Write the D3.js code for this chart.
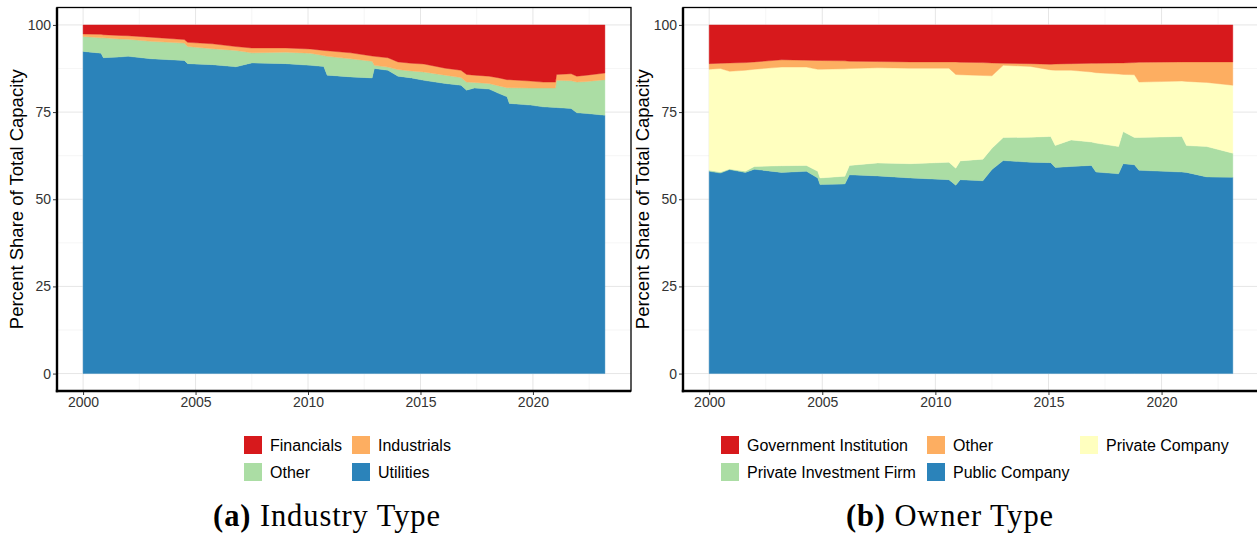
<!DOCTYPE html>
<html><head><meta charset="utf-8">
<script src="https://cdn.jsdelivr.net/npm/d3@7"></script>
<style>body{margin:0;background:#fff}svg{display:block}</style>
</head><body>
<svg id="c" width="1257" height="536"></svg>
<script>
// ---------- DATA ----------
const xTicks = [2000, 2005, 2010, 2015, 2020];
const yTicks = [0, 25, 50, 75, 100];

// Panel (a): Industry type (percent share)
const datesA = [2000.0,2000.8,2000.9,2001.6,2002.0,2003.0,2004.5,2004.65,2005.75,2006.8,2007.5,2009.0,2010.1,2010.7,2010.85,2011.9,2012.85,2012.95,2013.55,2014.0,2014.6,2015.15,2016.1,2016.8,2017.05,2017.4,2018.05,2018.5,2018.85,2018.95,2019.9,2020.45,2021.0,2021.05,2021.7,2021.95,2022.4,2023.2];
const utilitiesA = [92.4,91.9,90.6,90.8,91.0,90.3,89.8,88.9,88.6,88.0,89.1,88.9,88.4,88.1,85.6,85.1,84.8,87.5,87.0,85.3,84.8,84.1,83.2,82.7,81.3,81.9,81.6,80.3,79.4,77.5,77.0,76.5,76.3,76.3,76.0,74.8,74.6,74.1];
const otherA = [4.3,4.4,5.7,5.2,4.9,5.0,5.0,4.9,4.6,4.7,2.9,3.3,3.5,3.1,5.4,5.2,4.8,0.9,0.9,1.9,2.0,2.4,2.4,2.2,2.3,1.6,1.6,2.2,2.6,4.5,4.9,5.4,5.6,7.8,8.0,8.8,9.2,10.2];
const industrialsA = [0.7,1.0,0.9,1.0,1.0,1.2,1.0,1.2,1.4,1.1,1.4,1.2,1.2,1.5,1.6,1.7,1.5,2.6,2.7,2.2,2.2,2.3,2.0,2.1,2.2,2.1,2.1,2.3,2.3,2.3,2.0,1.7,1.7,1.7,2.0,1.7,1.8,1.9];
const financialsA = [2.6,2.7,2.8,3.0,3.1,3.5,4.2,5.0,5.4,6.2,6.6,6.6,6.9,7.3,7.4,8.0,8.9,9.0,9.4,10.6,11.0,11.2,12.4,13.0,14.2,14.4,14.7,15.2,15.7,15.7,16.1,16.4,16.4,14.2,14.0,14.7,14.4,13.8];

// Panel (b): Owner type (percent share)
const datesB = [2000.0,2000.5,2000.9,2001.6,2002.0,2003.2,2004.3,2004.8,2004.9,2006.0,2006.2,2007.45,2008.9,2010.6,2010.9,2011.1,2012.1,2012.5,2013.0,2014.2,2015.1,2015.3,2016.0,2016.9,2017.1,2018.1,2018.3,2018.8,2019.0,2020.9,2021.1,2022.0,2023.15];
const publicB = [58.0,57.5,58.5,57.7,58.6,57.7,58.0,56.1,54.2,54.4,57.0,56.7,56.1,55.6,54.0,55.6,55.3,58.5,61.1,60.6,60.5,59.1,59.4,59.7,57.8,57.3,60.2,59.9,58.3,57.8,57.7,56.4,56.3];
const privInvB = [0.3,0.3,0.2,0.3,0.8,1.9,1.7,1.9,1.9,2.2,2.7,3.7,4.1,5.0,4.9,5.4,6.2,6.1,6.6,7.2,7.5,6.3,7.6,6.7,8.3,7.8,9.2,7.8,9.4,10.2,7.7,8.7,6.9];
const privCoB = [29.0,29.7,28.0,29.0,27.9,28.3,28.2,29.3,31.2,30.8,27.8,27.3,27.4,27.0,26.9,24.7,24.0,20.8,20.7,20.3,19.1,21.6,20.0,20.1,20.2,20.8,16.4,18.0,15.9,15.9,18.4,18.4,19.5];
const otherB = [1.6,1.5,2.4,2.2,2.1,2.1,2.0,2.5,2.5,2.3,2.1,1.8,1.8,1.8,3.6,3.6,3.7,3.7,0.6,0.8,1.6,1.8,1.9,2.5,2.7,3.2,3.3,3.5,5.7,5.5,5.6,5.9,6.7];
const govB = [11.1,11.0,10.9,10.8,10.6,10.0,10.1,10.2,10.2,10.3,10.4,10.5,10.6,10.6,10.6,10.7,10.8,10.9,11.0,11.1,11.3,11.2,11.1,11.0,11.0,10.9,10.9,10.8,10.7,10.6,10.6,10.6,10.6];

const colors = {red:"#D7191C", orange:"#FDAE61", yellow:"#FFFFBF", green:"#ABDDA4", blue:"#2B83BA"};

// ---------- DRAW ----------
const svg = d3.select("#c");
const sans = "'Liberation Sans', Arial, sans-serif";

function panel(opts){
  const {x0, x1, y0, y1, dates, series, legend, caption, capBold, capX, dataEnd} = opts;
  const expand = (dataEnd - 2000) * 0.05;
  const x = d3.scaleLinear().domain([2000 - expand, dataEnd + expand]).range([x0, x1]);
  const y = d3.scaleLinear().domain([-5, 105]).range([y1, y0]);
  const g = svg.append("g");
  const clipId = "clip" + Math.round(x0);
  g.append("clipPath").attr("id", clipId).append("rect")
    .attr("x", x0).attr("y", y0).attr("width", x1 - x0).attr("height", y1 - y0);
  // grid
  const minorX = [], minorY = [];
  for (let v = 1997.5; v <= 2025; v += 5) minorX.push(v);
  for (let v = -12.5; v <= 112.5; v += 25) minorY.push(v);
  const grid = g.append("g").attr("clip-path", `url(#${clipId})`);
  grid.selectAll(".mx").data(minorX).join("line")
    .attr("x1", d => x(d)).attr("x2", d => x(d)).attr("y1", y0).attr("y2", y1)
    .attr("stroke", "#f0f0f0").attr("stroke-width", 0.6);
  grid.selectAll(".my").data(minorY).join("line")
    .attr("y1", d => y(d)).attr("y2", d => y(d)).attr("x1", x0).attr("x2", x1)
    .attr("stroke", "#f0f0f0").attr("stroke-width", 0.6);
  grid.selectAll(".Mx").data(xTicks).join("line")
    .attr("x1", d => x(d)).attr("x2", d => x(d)).attr("y1", y0).attr("y2", y1)
    .attr("stroke", "#e6e6e6").attr("stroke-width", 1);
  grid.selectAll(".My").data(yTicks).join("line")
    .attr("y1", d => y(d)).attr("y2", d => y(d)).attr("x1", x0).attr("x2", x1)
    .attr("stroke", "#e6e6e6").attr("stroke-width", 1);

  // stacked areas
  const rows = dates.map((t, i) => {
    const r = {t};
    series.forEach(s => r[s.key] = s.values[i]);
    return r;
  });
  const stack = d3.stack().keys(series.map(s => s.key))(rows);
  const area = d3.area().x(d => x(d.data.t)).y0(d => y(d[0])).y1(d => y(d[1]));
  g.append("g").attr("clip-path", `url(#${clipId})`)
    .selectAll("path").data(stack).join("path")
    .attr("d", area)
    .attr("fill", (d, i) => series[i].color)
    .attr("stroke", (d, i) => series[i].color).attr("stroke-width", 0.4);

  // border
  g.append("rect").attr("x", x0).attr("y", y0).attr("width", x1 - x0).attr("height", y1 - y0)
    .attr("fill", "none").attr("stroke", "#000").attr("stroke-width", 1.3);
  g.append("line").attr("x1", x0).attr("x2", x0).attr("y1", y0).attr("y2", y1 + 1.2)
    .attr("stroke", "#000").attr("stroke-width", 2.4);
  g.append("line").attr("x1", x0 - 1.2).attr("x2", x1).attr("y1", y1).attr("y2", y1)
    .attr("stroke", "#000").attr("stroke-width", 2.6);

  // y axis
  const ya = g.append("g").attr("transform", `translate(${x0 - 1},0)`)
    .call(d3.axisLeft(y).tickValues(yTicks).tickSize(3).tickPadding(2).tickFormat(d3.format("d")));
  ya.select(".domain").remove();
  ya.selectAll("line").attr("stroke", "#333");
  ya.selectAll("text").attr("font-family", sans).attr("font-size", 14).attr("fill", "#333");
  // x axis
  const xa = g.append("g").attr("transform", `translate(0,${y1 + 1})`)
    .call(d3.axisBottom(x).tickValues(xTicks).tickSize(3).tickPadding(2).tickFormat(d3.format("d")));
  xa.select(".domain").remove();
  xa.selectAll("line").attr("stroke", "#333");
  xa.selectAll("text").attr("font-family", sans).attr("font-size", 14).attr("fill", "#333");

  // y title
  g.append("text").attr("transform", `translate(${x0 - 39},${(y0 + y1) / 2}) rotate(-90)`)
    .attr("text-anchor", "middle").attr("dominant-baseline", "middle")
    .attr("font-family", sans).attr("font-size", 18.5).attr("fill", "#000")
    .text("Percent Share of Total Capacity");

  // legend
  const lg = g.append("g");
  legend.forEach(it => {
    lg.append("rect").attr("x", it.x).attr("y", it.y - 9).attr("width", 18).attr("height", 18)
      .attr("fill", it.color);
    lg.append("text").attr("x", it.x + 26).attr("y", it.y).attr("dominant-baseline", "central")
      .attr("font-family", sans).attr("font-size", 16).attr("fill", "#000").text(it.label);
  });

  // caption
  const cap = g.append("text").attr("x", capX).attr("y", 526).attr("text-anchor", "middle")
    .attr("font-family", "'Liberation Serif', 'DejaVu Serif', serif").attr("font-size", 30.5)
    .attr("letter-spacing", 0.9).attr("fill", "#000");
  cap.append("tspan").attr("font-weight", "bold").text(capBold);
  cap.append("tspan").text(" " + caption);
}

panel({
  x0: 57, x1: 631, y0: 7.5, y1: 391, dates: datesA, dataEnd: 2023.2,
  series: [
    {key: "Utilities", values: utilitiesA, color: colors.blue},
    {key: "Other", values: otherA, color: colors.green},
    {key: "Industrials", values: industrialsA, color: colors.orange},
    {key: "Financials", values: financialsA, color: colors.red}
  ],
  legend: [
    {label: "Financials", color: colors.red, x: 244, y: 445},
    {label: "Industrials", color: colors.orange, x: 352, y: 445},
    {label: "Other", color: colors.green, x: 244, y: 472},
    {label: "Utilities", color: colors.blue, x: 352, y: 472}
  ],
  capBold: "(a)", caption: "Industry Type", capX: 327
});

panel({
  x0: 683, x1: 1259, y0: 7.5, y1: 391, dates: datesB, dataEnd: 2023.15,
  series: [
    {key: "Public Company", values: publicB, color: colors.blue},
    {key: "Private Investment Firm", values: privInvB, color: colors.green},
    {key: "Private Company", values: privCoB, color: colors.yellow},
    {key: "Other", values: otherB, color: colors.orange},
    {key: "Government Institution", values: govB, color: colors.red}
  ],
  legend: [
    {label: "Government Institution", color: colors.red, x: 721, y: 445},
    {label: "Other", color: colors.orange, x: 927, y: 445},
    {label: "Private Company", color: colors.yellow, x: 1080, y: 445},
    {label: "Private Investment Firm", color: colors.green, x: 721, y: 472},
    {label: "Public Company", color: colors.blue, x: 927, y: 472}
  ],
  capBold: "(b)", caption: "Owner Type", capX: 950
});
</script>
</body></html>
